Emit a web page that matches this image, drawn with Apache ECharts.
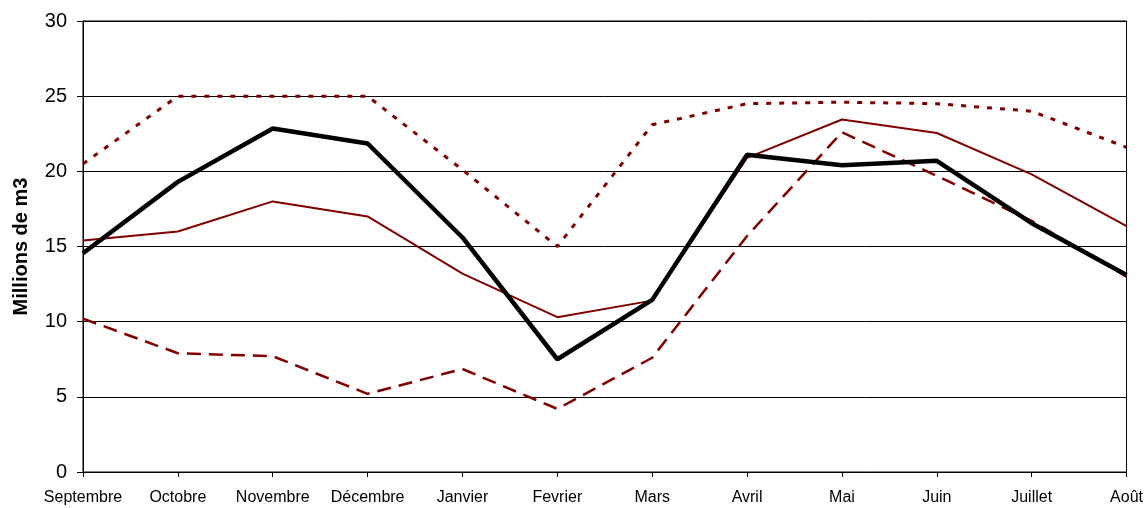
<!DOCTYPE html>
<html>
<head>
<meta charset="utf-8">
<script src="https://cdn.jsdelivr.net/npm/echarts@6/dist/echarts.min.js"></script>
<style>
html,body{margin:0;padding:0;background:#fff;}
#chart{width:1146px;height:508px;}
</style>
</head>
<body>
<div id="chart"></div>
<script>
var categories = ['Septembre','Octobre','Novembre','Décembre','Janvier','Fevrier','Mars','Avril','Mai','Juin','Juillet','Août'];
var yTicks = [0, 5, 10, 15, 20, 25, 30];
var seriesMax = [20.5, 25.0, 25.0, 25.0, 20.1, 15.0, 23.1, 24.5, 24.6, 24.5, 24.0, 21.6];
var seriesMin = [10.2, 7.9, 7.7, 5.2, 6.85, 4.2, 7.6, 15.7, 22.6, 19.7, 16.7, 13.0];
var seriesMoyenne = [15.4, 16.0, 18.0, 17.0, 13.2, 10.3, 11.4, 20.9, 23.45, 22.55, 19.8, 16.35];
var seriesAnnee = [14.55, 19.3, 22.85, 21.85, 15.6, 7.5, 11.45, 21.1, 20.4, 20.7, 16.55, 13.1];

var chart = echarts.init(document.getElementById('chart'));
var red = '#800000';
chart.setOption({
  animation: false,
  backgroundColor: '#ffffff',
  grid: { left: 83, right: 19, top: 21, bottom: 36, show: true, borderColor: '#000', borderWidth: 1, backgroundColor: 'transparent' },
  xAxis: {
    type: 'category',
    data: categories,
    boundaryGap: false,
    axisLine: { lineStyle: { color: '#000', width: 1 } },
    axisTick: { show: true, length: 5, alignWithLabel: true, lineStyle: { color: '#000' } },
    axisLabel: { color: '#000', fontFamily: 'Liberation Sans, Arial, sans-serif', fontSize: 16, margin: 18, interval: 0, hideOverlap: false },
    splitLine: { show: false }
  },
  yAxis: {
    type: 'value',
    min: yTicks[0],
    max: yTicks[yTicks.length - 1],
    interval: yTicks[1] - yTicks[0],
    name: 'Millions de m3',
    nameLocation: 'middle',
    nameGap: 52,
    nameTextStyle: { color: '#000', fontFamily: 'Liberation Sans, Arial, sans-serif', fontSize: 20, fontWeight: 'bold' },
    axisLine: { show: true, lineStyle: { color: '#000', width: 1 } },
    axisTick: { show: true, length: 6, lineStyle: { color: '#000' } },
    axisLabel: { color: '#000', fontFamily: 'Liberation Sans, Arial, sans-serif', fontSize: 20, margin: 16 },
    splitLine: { show: true, lineStyle: { color: '#000', width: 1 } }
  },
  series: [
    { name: 'Max', type: 'line', data: seriesMax, showSymbol: false, symbol: 'none', lineStyle: { color: red, width: 3, type: [5, 8] }, z: 2 },
    { name: 'Min', type: 'line', data: seriesMin, showSymbol: false, symbol: 'none', lineStyle: { color: red, width: 2.5, type: [14, 8] }, z: 2 },
    { name: 'Moyenne', type: 'line', data: seriesMoyenne, showSymbol: false, symbol: 'none', lineStyle: { color: red, width: 2 }, z: 3 },
    { name: 'Année', type: 'line', data: seriesAnnee, showSymbol: false, symbol: 'none', lineStyle: { color: '#000', width: 4.5 }, z: 4 }
  ]
});
</script>
</body>
</html>
